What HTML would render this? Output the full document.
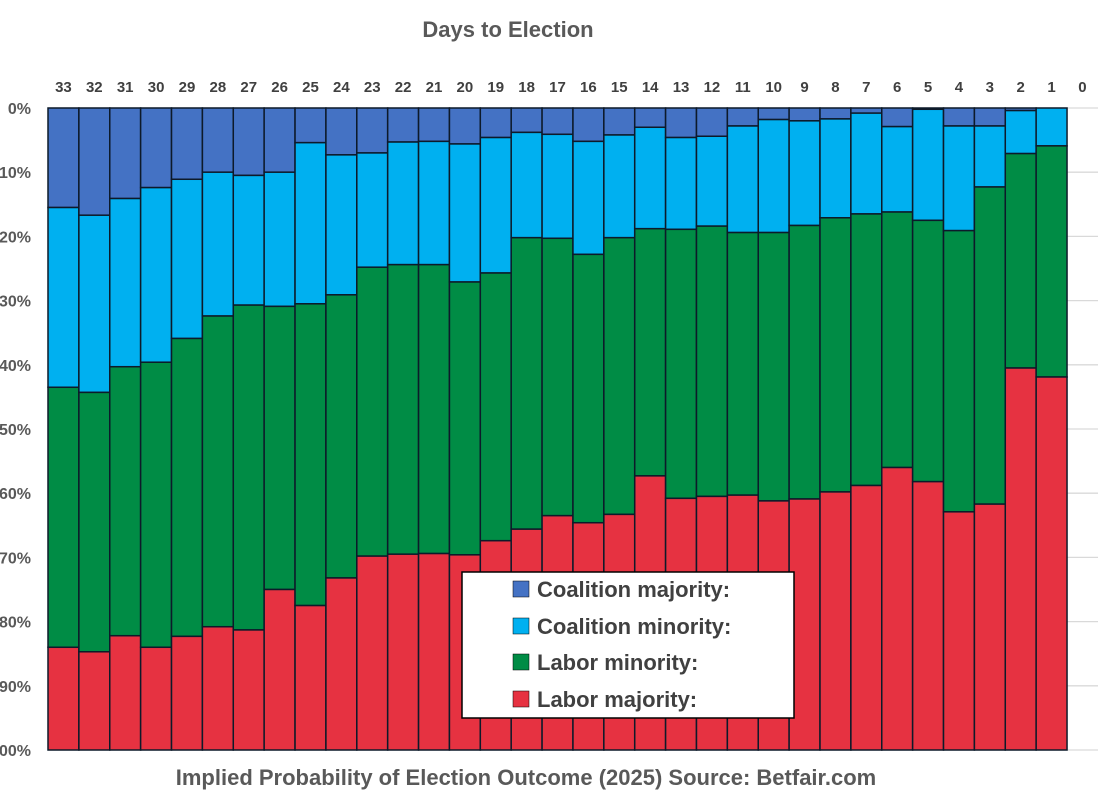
<!DOCTYPE html>
<html><head><meta charset="utf-8">
<style>
html,body{margin:0;padding:0;background:#fff;}
body{width:1103px;height:800px;overflow:hidden;font-family:"Liberation Sans",sans-serif;}
text{font-family:"Liberation Sans",sans-serif;font-weight:bold;}
</style></head>
<body>
<svg id="chart" width="1103" height="800" viewBox="0 0 1103 800">
<text x="508" y="37" text-anchor="middle" font-size="22" fill="#595959">Days to Election</text>
<g id="grid"></g>
<g id="bars"></g>
<g id="xlabels"></g>
<g id="ylabels"></g>
<text x="526" y="785" text-anchor="middle" font-size="22" fill="#595959">Implied Probability of Election Outcome (2025) Source: Betfair.com</text>
<g>
<rect x="462" y="572" width="332" height="146" fill="#fff" stroke="#000" stroke-width="1.5"/>
<g><rect x="513" y="581" width="16" height="16" fill="#4472C4" stroke="#000" stroke-width="0.5"/><text x="537" y="597" font-size="22" fill="#404040">Coalition majority:</text></g>
<g><rect x="513" y="618" width="16" height="16" fill="#00B0F0" stroke="#000" stroke-width="0.5"/><text x="537" y="634" font-size="22" fill="#404040">Coalition minority:</text></g>
<g><rect x="513" y="654" width="16" height="16" fill="#008C45" stroke="#000" stroke-width="0.5"/><text x="537" y="670" font-size="22" fill="#404040">Labor minority:</text></g>
<g><rect x="513" y="691" width="16" height="16" fill="#E63241" stroke="#000" stroke-width="0.5"/><text x="537" y="707" font-size="22" fill="#404040">Labor majority:</text></g>
</g>
</svg>
<script>
const days = [33,32,31,30,29,28,27,26,25,24,23,22,21,20,19,18,17,16,15,14,13,12,11,10,9,8,7,6,5,4,3,2,1,0];
const coalitionMajority = [15.5,16.7,14.1,12.4,11.1,10,10.5,10,5.4,7.3,7,5.3,5.2,5.6,4.6,3.8,4.1,5.2,4.2,3,4.6,4.4,2.8,1.8,2,1.7,0.8,2.9,0.2,2.8,2.8,0.4,0,0];
const coalitionMinority = [28,27.6,26.2,27.2,24.8,22.4,20.2,20.9,25.1,21.8,17.8,19.1,19.2,21.5,21.1,16.4,16.2,17.6,16,15.8,14.3,14,16.6,17.6,16.3,15.4,15.7,13.3,17.3,16.3,9.5,6.7,5.9,0];
const laborMinority = [40.5,40.4,41.9,44.4,46.4,48.4,50.6,44.1,47,44.1,45,45.1,45,42.5,41.7,45.4,43.2,41.8,43.1,38.5,41.9,42.1,40.9,41.8,42.6,42.7,42.3,39.8,40.7,43.8,49.4,33.4,36,0];
const laborMajority = [16,15.3,17.8,16,17.7,19.2,18.7,25,22.5,26.8,30.2,30.5,30.6,30.4,32.6,34.4,36.5,35.4,36.7,42.7,39.2,39.5,39.7,38.8,39.1,40.2,41.2,44,41.8,37.1,38.3,59.5,58.1,0];
const yTicks = [0,10,20,30,40,50,60,70,80,90,100];
const yTickLabels = ["0%","10%","20%","30%","40%","50%","60%","70%","80%","90%","00%"];

const NS="http://www.w3.org/2000/svg";
const X0=48, SLOT=30.88, Y0=108, Y1=750, XR=1098;
function xPos(i){return X0+i*SLOT;}
function yPos(p){return Y0+(Y1-Y0)*p/100;}
function mk(tag,attrs,parent){const e=document.createElementNS(NS,tag);for(const k in attrs)e.setAttribute(k,attrs[k]);parent.appendChild(e);return e;}

const grid=document.getElementById('grid');
const yl=document.getElementById('ylabels');
yTicks.forEach((t,i)=>{
  const l=mk('line',{x1:X0,x2:XR,y1:yPos(t),y2:yPos(t),stroke:'#d9d9d9','stroke-width':1.3},grid);
  
  
  const tx=mk('text',{x:31,y:yPos(t)+6,'text-anchor':'end','font-size':16,fill:'#595959'},yl);
  tx.textContent=yTickLabels[i];
  
  
});
const xl=document.getElementById('xlabels');
days.forEach((d,i)=>{
  const tx=mk('text',{x:xPos(i)+SLOT/2,y:92,'text-anchor':'middle','font-size':15,fill:'#404040'},xl);
  tx.textContent=d;
  
  
});
const series=[[coalitionMajority,'#4472C4','coalition-majority'],[coalitionMinority,'#00B0F0','coalition-minority'],[laborMinority,'#008C45','labor-minority'],[laborMajority,'#E63241','labor-majority']];
const bars=document.getElementById('bars');
days.forEach((d,i)=>{
  let cum=0;
  series.forEach(s=>{
    const v=s[0][i];
    if(v>0){
      const r=mk('rect',{x:xPos(i),y:yPos(cum),width:SLOT,height:yPos(cum+v)-yPos(cum),fill:s[1],stroke:'#0d1a2a','stroke-width':1.5},bars);
      
      
    }
    cum+=v;
  });
});
</script>
</body></html>
